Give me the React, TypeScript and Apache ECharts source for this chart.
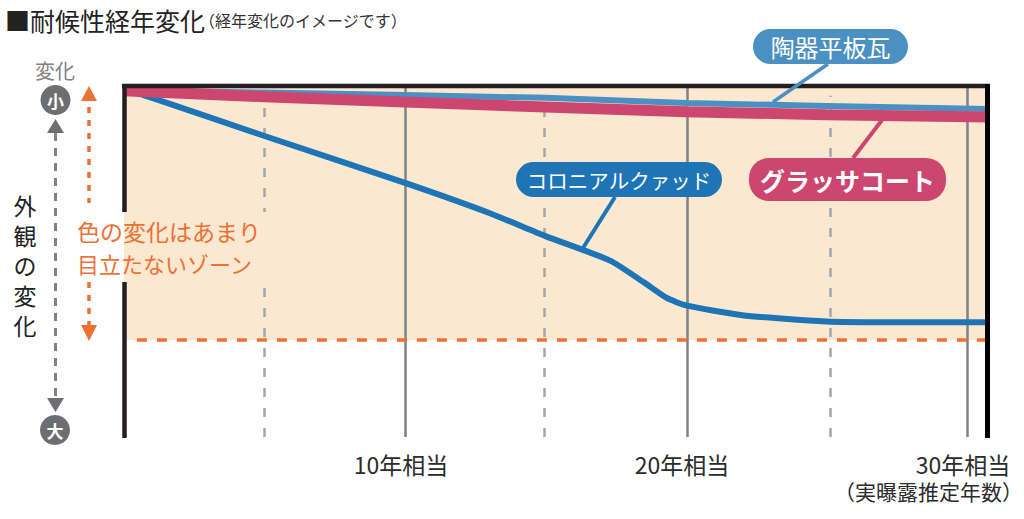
import React, { useEffect, useRef } from "react";
import * as echarts from "echarts";

const FONT = "'Noto Sans CJK JP', 'Noto Sans', sans-serif";
const colonialYears = [0, 1, 5, 10, 13, 15, 17.3, 18.5, 19.3, 20, 22, 25, 27, 30.75];
const colonialValues = [0.6, 3.1, 14, 27.4, 36, 42.6, 49.6, 55.8, 60.2, 62.4, 65.2, 67, 67.2, 67.2];
const tileYears = [0, 5, 10, 15, 20, 25, 30.75];
const tileValues = [0.9, 1.6, 2.3, 3.1, 4.6, 5.4, 6.3];
const glassValues = [1.1, 2.8, 4.3, 5.7, 7.1, 7.9, 8.6];
const solidYears = [10, 20.05, 30];
const dashedYears = [5, 14.95, 25.15];
const tickYears = [10, 20, 30];
const zoneLimit = 72.3;
const xMax = 30.75;
const sideChars = ["外", "観", "の", "変", "化"];

const zipXY = (xs: number[], ys: number[]) => xs.map((x, i) => [x, ys[i]]);

const pill = (x: number, y: number, w: number, h: number, r: number, color: string, text: string, size: number, weight: string) => [
  { type: "rect", z: 70, shape: { x, y, width: w, height: h, r }, style: { fill: color } },
  { type: "text", z: 71, x: x + w / 2, y: y + h / 2, style: { text, fill: "#fff", font: `${weight} ${size}px ${FONT}`, textAlign: "center", textVerticalAlign: "middle" } },
];
const seg = (x1: number, y1: number, x2: number, y2: number, stroke: string, lineWidth: number, lineDash?: number[], z = 65) => ({
  type: "line", z, shape: { x1, y1, x2, y2 }, style: { stroke, lineWidth, lineDash },
});
const tri = (x: number, y: number, w: number, h: number, fill: string) => ({
  type: "polygon", z: 65, shape: { points: [[x - w / 2, y], [x + w / 2, y], [x, y + h]] }, style: { fill },
});
const label = (x: number, y: number, text: string, fill: string, size: number, align = "left", weight = "normal") => ({
  type: "text", z: 72, x, y, style: { text, fill, font: `${weight} ${size}px ${FONT}`, textAlign: align, textVerticalAlign: "middle" },
});

export default function App() {
  const ref = useRef<HTMLDivElement>(null);
  useEffect(() => {
    const chart = echarts.init(ref.current!, undefined, { renderer: "svg" });
    const gridLine = (years: number[], top: number, color: string, width: number, type: any) => ({
      silent: true, symbol: "none", z: 1, label: { show: false },
      lineStyle: { color, width, type, opacity: 1 },
      data: years.map((x) => [{ coord: [x, 100] }, { coord: [x, top] }]),
    });
    const option: any = {
      animation: false,
      grid: { left: 124, top: 87, width: 864, height: 350 },
      xAxis: {
        type: "value", min: 0, max: xMax, interval: 10, splitLine: { show: false },
        axisLine: { show: false }, axisTick: { show: false },
        axisLabel: {
          customValues: tickYears, margin: 15, color: "#2b2b2b", fontSize: 23, fontFamily: FONT, padding: [0, 8, 0, 0],
          formatter: (v: number) => `${v}年相当`,
        },
      },
      yAxis: { type: "value", min: 0, max: 100, inverse: true, show: false },
      series: [
        {
          type: "line", name: "zone", data: [], z: 1, symbol: "none",
          markArea: { silent: true, z: 0, itemStyle: { color: "#fbe8d0", opacity: 1 }, data: [[{ coord: [0, 0] }, { coord: [xMax, zoneLimit] }]] },
          markLine: gridLine(dashedYears, 2.5, "#a3a6aa", 2.5, [9, 11]),
        },
        { type: "line", name: "solid", data: [], z: 1, symbol: "none", markLine: gridLine(solidYears, 0, "#808285", 2.5, "solid") },
        {
          type: "line", name: "limit", data: [], z: 1, symbol: "none",
          markLine: {
            silent: true, symbol: "none", z: 2, label: { show: false },
            lineStyle: { color: "#ee7034", width: 3.5, type: [10, 10], opacity: 1 },
            data: [[{ coord: [0.46, zoneLimit] }, { coord: [30.68, zoneLimit] }]],
          },
        },
        { type: "line", name: "コロニアルクァッド", data: zipXY(colonialYears, colonialValues), z: 3, smooth: 0.2, symbol: "none", lineStyle: { color: "#1f74b5", width: 6 } },
        { type: "line", name: "陶器平板瓦", data: zipXY(tileYears, tileValues), z: 3, symbol: "none", lineStyle: { color: "#4a90c2", width: 6 } },
        { type: "line", name: "グラッサコート", data: zipXY(tileYears, glassValues), z: 4, symbol: "none", lineStyle: { color: "#cc466f", width: 11 } },
      ],
      graphic: [
        { type: "rect", z: 50, shape: { x: 124, y: 212, width: 146, height: 68 }, style: { fill: "#fbe8d0" } },
        seg(122, 86, 990, 86, "#231f20", 4.5),
        seg(124.5, 84, 124.5, 212, "#231f20", 4.5),
        seg(124.5, 282, 124.5, 438, "#231f20", 4.5),
        seg(987.5, 84, 987.5, 438, "#000", 5),
        label(5, 20, "■耐候性経年変化", "#222", 25),
        label(199, 20, "（経年変化のイメージです）", "#333", 16),
        label(55, 70, "変化", "#808285", 20, "center"),
        { type: "circle", z: 65, shape: { cx: 55.5, cy: 100, r: 15 }, style: { fill: "#6d6e72" } },
        { type: "circle", z: 65, shape: { cx: 55, cy: 430, r: 15 }, style: { fill: "#6d6e72" } },
        label(55.5, 100, "小", "#fff", 17, "center", "bold"),
        label(55, 430, "大", "#fff", 17, "center", "bold"),
        tri(55.5, 133, 17, -14, "#6d6e72"),
        tri(55.5, 398, 17, 14, "#6d6e72"),
        seg(55.5, 133, 55.5, 398, "#808285", 3, [8, 7]),
        tri(89, 101, 16, -15, "#ee7034"),
        tri(89, 325, 16, 16, "#ee7034"),
        seg(89, 107, 89, 203, "#ee7034", 3.5, [6, 7]),
        seg(89, 282, 89, 325, "#ee7034", 3.5, [6, 7]),
        ...sideChars.map((c, i) => label(25, 205 + i * 30, c, "#222", 23, "center")),
        label(77, 231, "色の変化はあまり", "#ee7034", 23),
        label(77, 263, "目立たないゾーン", "#ee7034", 22),
        seg(828, 64, 773, 102, "#4a90c2", 3.5),
        seg(615, 197, 583, 248, "#1f74b5", 4),
        seg(882, 120, 853, 158, "#cc466f", 4),
        ...pill(753, 29, 155, 35, 17.5, "#4a90c2", "陶器平板瓦", 24, "normal"),
        ...pill(516, 162, 206, 35, 17.5, "#1f74b5", "コロニアルクァッド", 20.5, "normal"),
        ...pill(749, 158, 197, 43, 20, "#cc466f", "グラッサコート", 25, "bold"),
        label(1023, 491, "（実曝露推定年数）", "#2b2b2b", 21, "right"),
      ],
    };
    chart.setOption(option);
    return () => chart.dispose();
  }, []);
  return <div ref={ref} style={{ position: "fixed", left: 0, top: 0, width: 1024, height: 519, background: "#fff" }} />;
}
